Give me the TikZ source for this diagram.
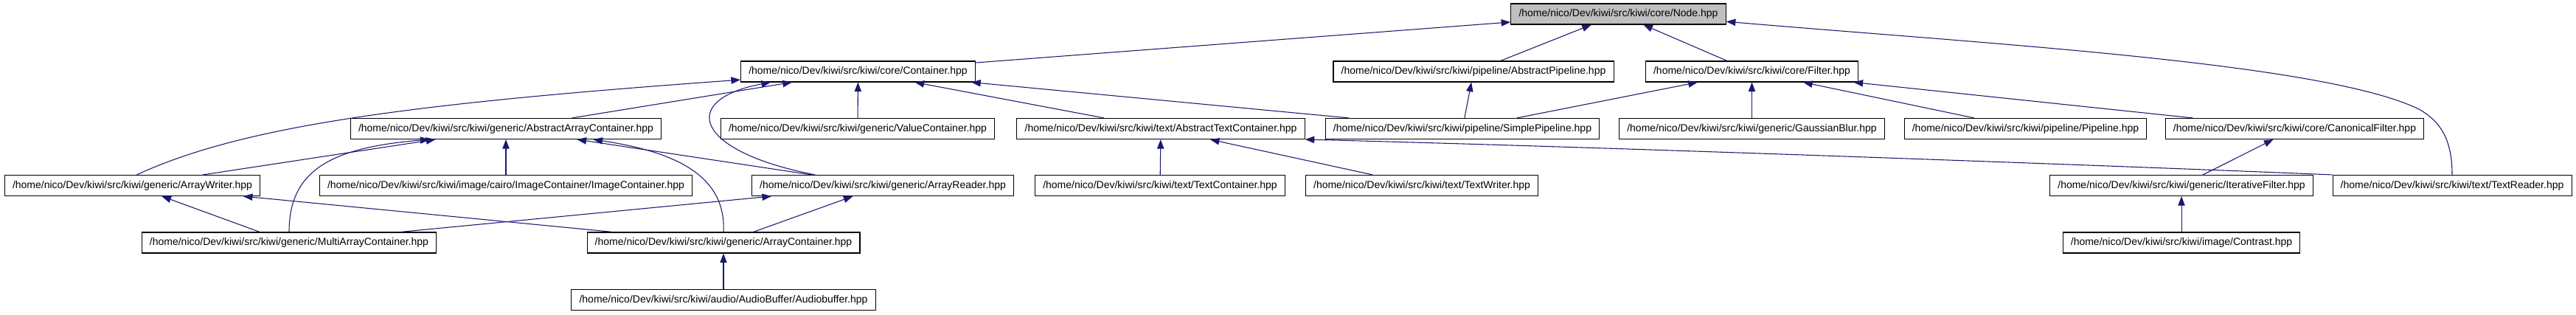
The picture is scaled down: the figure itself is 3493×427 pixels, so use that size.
\documentclass[tikz,border=0pt]{standalone}
\usepackage{fontspec}
\setmainfont{Liberation Sans}
\usetikzlibrary{arrows.meta}
\definecolor{edgeblue}{HTML}{191970}
\definecolor{nodegray}{HTML}{BFBFBF}
\begin{document}
\begin{tikzpicture}[x=0.75pt,y=-0.75pt,
    every node/.style={font=\fontsize{10.5}{12}\selectfont},
    file/.style={draw,line width=0.8pt,fill=white,inner xsep=8pt,inner ysep=0pt,minimum height=21pt},
    dep/.style={draw=edgeblue,line width=0.8pt,-{Triangle[length=9.5pt,width=7pt]}}]
  \useasboundingbox (0,0) rectangle (3493,427);

  % row 1
  \node[file,fill=nodegray] (node) at (2194.5,19) {/home/nico/Dev/kiwi/src/kiwi/core/Node.hpp};

  % row 2
  \node[file] (container) at (1163.5,97) {/home/nico/Dev/kiwi/src/kiwi/core/Container.hpp};
  \node[file] (abspipe) at (1998,97) {/home/nico/Dev/kiwi/src/kiwi/pipeline/AbstractPipeline.hpp};
  \node[file] (filter) at (2375.5,97) {/home/nico/Dev/kiwi/src/kiwi/core/Filter.hpp};

  % row 3
  \node[file] (abstractarray) at (686,174.5) {/home/nico/Dev/kiwi/src/kiwi/generic/AbstractArrayContainer.hpp};
  \node[file] (valuecontainer) at (1163,174.5) {/home/nico/Dev/kiwi/src/kiwi/generic/ValueContainer.hpp};
  \node[file] (abstracttext) at (1574,174.5) {/home/nico/Dev/kiwi/src/kiwi/text/AbstractTextContainer.hpp};
  \node[file] (simplepipe) at (1983,174.5) {/home/nico/Dev/kiwi/src/kiwi/pipeline/SimplePipeline.hpp};
  \node[file] (gaussian) at (2375.5,174.5) {/home/nico/Dev/kiwi/src/kiwi/generic/GaussianBlur.hpp};
  \node[file] (pipeline) at (2746.5,174.5) {/home/nico/Dev/kiwi/src/kiwi/pipeline/Pipeline.hpp};
  \node[file] (canonical) at (3111.5,174.5) {/home/nico/Dev/kiwi/src/kiwi/core/CanonicalFilter.hpp};

  % row 4
  \node[file] (arraywriter) at (179.5,251.5) {/home/nico/Dev/kiwi/src/kiwi/generic/ArrayWriter.hpp};
  \node[file] (imagecontainer) at (686,251.5) {/home/nico/Dev/kiwi/src/kiwi/image/cairo/ImageContainer/ImageContainer.hpp};
  \node[file] (arrayreader) at (1197,251.5) {/home/nico/Dev/kiwi/src/kiwi/generic/ArrayReader.hpp};
  \node[file] (textcontainer) at (1573,251.5) {/home/nico/Dev/kiwi/src/kiwi/text/TextContainer.hpp};
  \node[file] (textwriter) at (1928,251.5) {/home/nico/Dev/kiwi/src/kiwi/text/TextWriter.hpp};
  \node[file] (iterative) at (2958,251.5) {/home/nico/Dev/kiwi/src/kiwi/generic/IterativeFilter.hpp};
  \node[file] (textreader) at (3325,251.5) {/home/nico/Dev/kiwi/src/kiwi/text/TextReader.hpp};

  % rows 5 and 6
  \node[file] (multiarray) at (392,329) {/home/nico/Dev/kiwi/src/kiwi/generic/MultiArrayContainer.hpp};
  \node[file] (arraycontainer) at (981,329) {/home/nico/Dev/kiwi/src/kiwi/generic/ArrayContainer.hpp};
  \node[file] (contrast) at (2958,329) {/home/nico/Dev/kiwi/src/kiwi/image/Contrast.hpp};
  \node[file] (audiobuffer) at (981,406.5) {/home/nico/Dev/kiwi/src/kiwi/audio/AudioBuffer/Audiobuffer.hpp};

  % included by
  \draw[dep] (container) -- (node);
  \draw[dep] (abspipe) -- (node);
  \draw[dep] (filter) -- (node);
  \draw[dep] (textreader.north) .. controls (3325,190) and (3310,165) .. (3280,148)
    .. controls (3150,85) and (2700,60) .. (node.-4);

  \draw[dep] (abstractarray) -- (container);
  \draw[dep] (valuecontainer) -- (container);
  \draw[dep] (abstracttext) -- (container);
  \draw[dep] (simplepipe) -- (container);
  \draw[dep] (arraywriter.68) .. controls (330,170) and (560,140) .. (container.-176);
  \draw[dep] (arrayreader.171) .. controls (940,205) and (920,135) .. (container.-173);

  \draw[dep] (simplepipe) -- (abspipe);
  \draw[dep] (simplepipe) -- (filter);
  \draw[dep] (gaussian) -- (filter);
  \draw[dep] (pipeline) -- (filter);
  \draw[dep] (canonical) -- (filter);

  \draw[dep] (arraywriter) -- (abstractarray);
  \draw[dep] (imagecontainer) -- (abstractarray);
  \draw[dep] (arrayreader) -- (abstractarray);
  \draw[dep] (multiarray.north) .. controls (392,230) and (450,200) .. (abstractarray.-172.5);
  \draw[dep] (arraycontainer.north) .. controls (985,235) and (910,205) .. (abstractarray.-7);

  \draw[dep] (textcontainer) -- (abstracttext);
  \draw[dep] (textwriter) -- (abstracttext);
  \draw[dep] (textreader.north west) .. controls (2900,226) and (2200,200) .. (abstracttext.south east);

  \draw[dep] (iterative) -- (canonical);
  \draw[dep] (contrast) -- (iterative);

  \draw[dep] (multiarray) -- (arraywriter);
  \draw[dep] (arraycontainer) -- (arraywriter);
  \draw[dep] (multiarray) -- (arrayreader);
  \draw[dep] (arraycontainer) -- (arrayreader);
  \draw[dep] (audiobuffer) -- (arraycontainer);
\end{tikzpicture}
\end{document}
